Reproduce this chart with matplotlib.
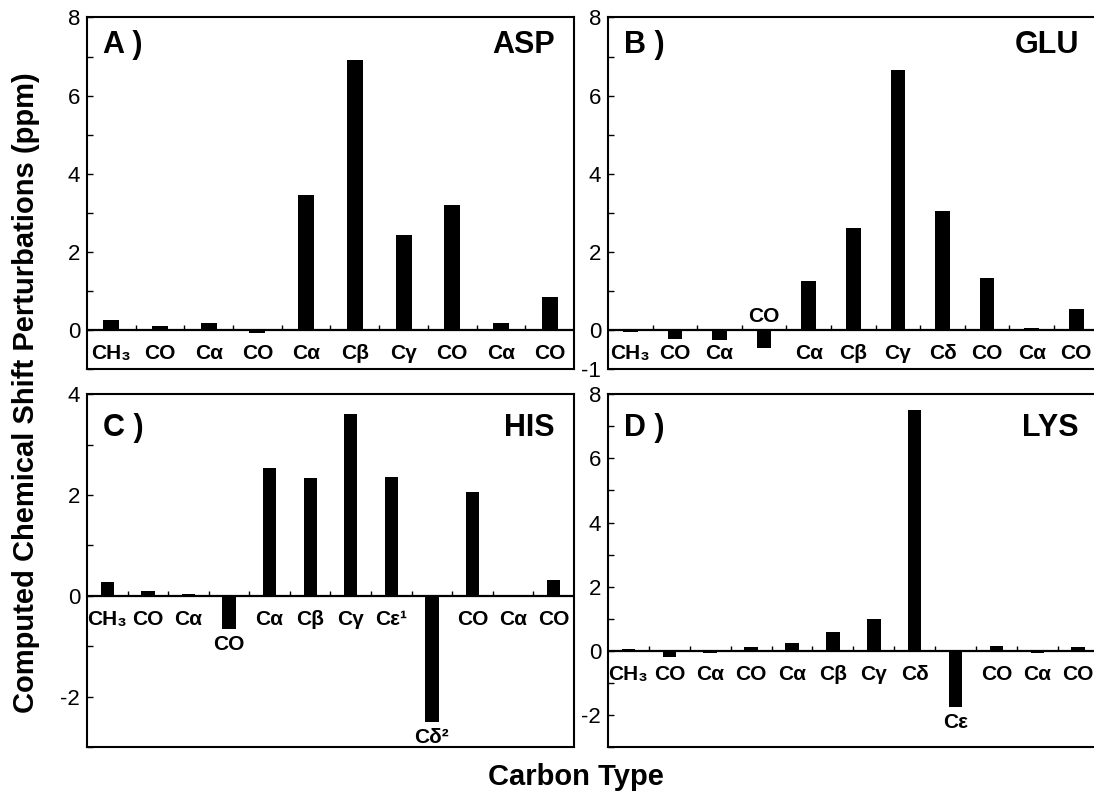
import matplotlib
matplotlib.use("Agg")
import matplotlib.pyplot as plt
from matplotlib.ticker import MultipleLocator
from matplotlib.markers import TICKUP

plt.rcParams['font.family'] = ['Liberation Sans', 'DejaVu Sans']

# carbon types and computed shift perturbations (ppm) per residue
asp_labels = ['CH₃', 'CO', 'Cα', 'CO', 'Cα', 'Cβ', 'Cγ', 'CO', 'Cα', 'CO']
asp_shift = [0.26, 0.10, 0.18, -0.09, 3.46, 6.90, 2.43, 3.21, 0.18, 0.84]

glu_labels = ['CH₃', 'CO', 'Cα', 'CO', 'Cα', 'Cβ', 'Cγ', 'Cδ', 'CO', 'Cα', 'CO']
glu_shift = [-0.05, -0.22, -0.27, -0.46, 1.25, 2.61, 6.66, 3.05, 1.34, 0.05, 0.53]

his_labels = ['CH₃', 'CO', 'Cα', 'CO', 'Cα', 'Cβ', 'Cγ', 'Cε¹', 'Cδ²', 'CO', 'Cα', 'CO']
his_shift = [0.28, 0.10, 0.04, -0.66, 2.53, 2.33, 3.60, 2.36, -2.50, 2.05, -0.03, 0.31]

lys_labels = ['CH₃', 'CO', 'Cα', 'CO', 'Cα', 'Cβ', 'Cγ', 'Cδ', 'Cε', 'CO', 'Cα', 'CO']
lys_shift = [0.06, -0.20, -0.05, 0.11, 0.26, 0.59, 0.98, 7.49, -1.73, 0.16, -0.05, 0.11]

fig = plt.figure(figsize=(10.94, 7.93), dpi=100)

# rect, labels, values, tag, residue, ylim, yticks, labels under bar, labels above zero, text y
panels = [
    ([0.0795, 0.5347, 0.4452, 0.4433], asp_labels, asp_shift, 'A )', 'ASP',
     (-1, 8), [0, 2, 4, 6, 8], [], [], 0.964),
    ([0.5558, 0.5347, 0.4484, 0.4433], glu_labels, glu_shift, 'B )', 'GLU',
     (-1, 8), [-1, 0, 2, 4, 6, 8], [], [3], 0.964),
    ([0.0795, 0.0576, 0.4452, 0.4455], his_labels, his_shift, 'C )', 'HIS',
     (-3, 4), [-2, 0, 2, 4], [3, 8], [], 0.946),
    ([0.5558, 0.0576, 0.4484, 0.4455], lys_labels, lys_shift, 'D )', 'LYS',
     (-3, 8), [-2, 0, 2, 4, 6, 8], [8], [], 0.946),
]

for rect, labels, vals, tag, name, ylim, yticks, under, above, ty in panels:
    ax = fig.add_axes(rect)
    n = len(vals)
    x = list(range(n))
    ax.bar(x, vals, width=0.33, color='black', edgecolor='none', zorder=3)
    ax.axhline(0, color='black', lw=1.6, zorder=2)
    # little separators between carbon types on the zero line
    ax.plot([i + 0.5 for i in range(n - 1)], [0] * (n - 1), ls='none',
            marker=TICKUP, ms=3.6, mew=1.0, color='black', zorder=2)

    ax.set_xlim(-0.5, n - 0.5)
    ax.set_ylim(*ylim)
    ax.set_xticks([])
    ax.set_yticks(yticks)
    ax.set_yticklabels([str(t) for t in yticks])
    ax.yaxis.set_minor_locator(MultipleLocator(1))
    ax.tick_params(axis='y', which='both', direction='in', length=4, width=1,
                   labelsize=16, pad=5)
    for sp in ax.spines.values():
        sp.set_linewidth(1.5)

    for i, lab in enumerate(labels):
        if i in under:
            ax.annotate(lab, (i, vals[i]), xytext=(0, -6), textcoords='offset pixels',
                        ha='center', va='top', fontsize=15, fontweight='bold')
        elif i in above:
            ax.annotate(lab, (i, 0), xytext=(0, 4), textcoords='offset pixels',
                        ha='center', va='bottom', fontsize=15, fontweight='bold')
        else:
            ax.annotate(lab, (i, 0), xytext=(0, -14), textcoords='offset pixels',
                        ha='center', va='top', fontsize=15, fontweight='bold')

    ax.text(0.033, ty, tag, transform=ax.transAxes, ha='left', va='top',
            fontsize=22, fontweight='bold')
    ax.text(0.96, ty, name, transform=ax.transAxes, ha='right', va='top',
            fontsize=22, fontweight='bold')

fig.text(0.024, 0.505, 'Computed Chemical Shift Perturbations (ppm)', rotation=90,
         ha='center', va='center', fontsize=21, fontweight='bold')
fig.text(0.526, 0.02, 'Carbon Type', ha='center', va='center',
         fontsize=21, fontweight='bold')

fig.savefig('out.png', dpi=100)
